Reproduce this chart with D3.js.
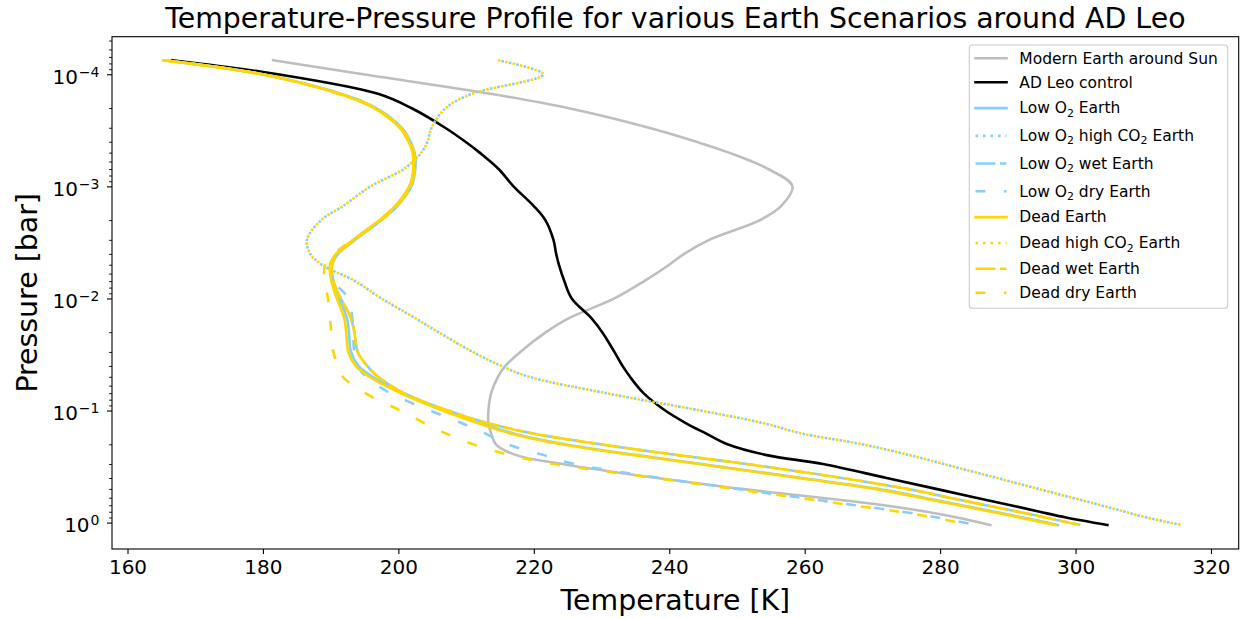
<!DOCTYPE html>
<html>
<head>
<meta charset="utf-8">
<script src="https://cdn.jsdelivr.net/npm/d3@7"></script>
<style>
  body { margin: 0; background: #fff; }
  svg { display: block; }
  text { font-family: "DejaVu Sans", "Liberation Sans", sans-serif; fill: #000; }
</style>
</head>
<body>
<svg id="chart" width="1243" height="619"></svg>
<script>
// Shared pressure levels of every profile (bar), top of atmosphere to surface
const pressureBar = [7.5e-5, 1e-4, 1.5e-4, 2e-4, 3e-4, 4e-4, 5e-4, 7e-4, 1e-3, 1.5e-3,
  2e-3, 3e-3, 4e-3, 5e-3, 7e-3, 1e-2, 1.5e-2, 2e-2, 3e-2, 4e-2,
  5e-2, 7e-2, 0.1, 0.13, 0.16, 0.2, 0.25, 0.3, 0.4, 0.5,
  0.6, 0.7, 0.8, 0.9, 1.05];

// Temperatures (K) at each pressure level
const modernEarthSun = [181.5, 194.8, 213.8, 225.0, 237.0, 244.0, 248.8, 254.6, 258.2, 256.5,
  253.4, 245.9, 242.2, 240.0, 236.3, 231.9, 225.2, 221.8, 218.0, 215.8,
  214.7, 213.7, 213.3, 213.3, 213.7, 214.4, 217.4, 224.2, 238.2, 250.6,
  262.4, 271.7, 278.0, 282.5, 287.4];
const adLeoControl = [166.6, 182.2, 197.1, 201.9, 206.9, 209.9, 212.0, 214.8, 217.0, 220.0,
  221.7, 222.9, 223.3, 223.7, 224.5, 225.6, 228.5, 230.1, 231.9, 233.1,
  234.2, 236.2, 239.4, 242.5, 245.4, 248.6, 254.4, 262.7, 272.1, 279.4,
  285.3, 290.4, 294.7, 298.6, 304.7];
const lowO2Earth = [165.5, 180.0, 191.6, 196.7, 200.5, 201.8, 202.4, 202.5, 201.9, 199.8,
  197.5, 193.6, 191.1, 190.2, 190.4, 191.3, 192.4, 192.7, 193.0, 194.1,
  196.2, 200.8, 207.0, 212.3, 217.0, 224.6, 235.3, 244.8, 259.6, 270.8,
  277.6, 283.2, 288.0, 292.2, 297.4];
const lowO2HighCO2Earth = [214.7, 221.4, 210.8, 207.0, 204.9, 204.3, 203.4, 200.8, 195.9, 191.8,
  188.6, 186.5, 187.0, 188.7, 193.6, 197.5, 202.5, 205.9, 211.0, 215.2,
  219.3, 230.7, 244.6, 254.0, 259.5, 268.5, 275.5, 280.5, 288.4, 294.5,
  299.5, 303.7, 307.3, 310.5, 315.6];
const lowO2WetEarth = [165.4, 179.9, 191.5, 196.6, 200.4, 201.7, 202.3, 202.4, 201.8, 199.7,
  197.4, 193.5, 191.0, 190.2, 190.4, 191.5, 193.0, 193.5, 194.0, 195.4,
  197.0, 200.8, 207.3, 213.3, 219.8, 229.8, 241.3, 251.4, 265.5, 275.1,
  281.4, 286.8, 291.5, 295.5, 300.7];
const lowO2DryEarth = [165.5, 180.0, 191.6, 196.7, 200.5, 201.8, 202.4, 202.5, 201.9, 199.8,
  197.5, 193.6, 191.1, 190.2, 190.5, 192.6, 193.2, 193.3, 193.5, 194.0,
  195.2, 198.8, 204.7, 209.4, 212.8, 216.1, 221.5, 226.0, 238.7, 250.0,
  259.5, 267.5, 274.4, 279.6, 285.2];
const deadEarth = [165.3, 179.8, 191.3, 196.4, 200.2, 201.5, 202.1, 202.2, 201.6, 199.5,
  197.2, 193.3, 190.8, 189.9, 190.1, 190.9, 192.0, 192.3, 192.6, 193.7,
  195.7, 200.3, 206.5, 211.8, 216.5, 224.1, 234.8, 244.3, 259.1, 270.3,
  277.1, 282.7, 287.5, 291.7, 297.0];
const deadHighCO2Earth = [214.7, 221.4, 210.8, 207.0, 204.9, 204.3, 203.4, 200.8, 195.9, 191.8,
  188.6, 186.5, 187.0, 188.7, 193.6, 197.5, 202.5, 205.9, 211.0, 215.2,
  219.3, 230.7, 244.6, 254.0, 259.5, 268.5, 275.5, 280.5, 288.4, 294.5,
  299.5, 303.7, 307.3, 310.5, 315.6];
const deadWetEarth = [165.4, 179.9, 191.5, 196.6, 200.4, 201.7, 202.3, 202.4, 201.8, 199.7,
  197.4, 193.5, 191.0, 190.2, 190.4, 191.5, 193.0, 193.5, 194.0, 195.4,
  197.0, 200.8, 207.3, 213.3, 219.8, 229.8, 241.3, 251.4, 265.5, 275.1,
  281.4, 286.8, 291.5, 295.5, 300.7];
const deadDryEarth = [165.3, 179.8, 191.3, 196.4, 200.2, 201.5, 202.1, 202.2, 201.6, 199.5,
  197.2, 193.3, 190.5, 189.2, 189.1, 189.6, 189.9, 190.1, 190.4, 191.1,
  191.8, 195.1, 200.3, 203.9, 207.0, 211.0, 216.5, 222.9, 237.9, 249.4,
  259.0, 267.0, 274.0, 279.0, 284.4];

const seriesNames = ["Modern Earth around Sun", "AD Leo control", "Low O_2 Earth",
  "Low O_2 high CO_2 Earth", "Low O_2 wet Earth", "Low O_2 dry Earth", "Dead Earth",
  "Dead high CO_2 Earth", "Dead wet Earth", "Dead dry Earth"];

const xTickValues = [160, 180, 200, 220, 240, 260, 280, 300, 320];
const yTickValues = [1e-4, 1e-3, 1e-2, 1e-1, 1];
const yTickExponents = ["−4", "−3", "−2", "−1", "0"];

const titleText = "Temperature-Pressure Profile for various Earth Scenarios around AD Leo";
const xLabelText = "Temperature [K]";
const yLabelText = "Pressure [bar]";

// ---- styling ----
const GRAY = "#bebebe", BLACK = "#000000", BLUE = "#87cefa", GOLD = "#ffd700";
const LW = 2.6;
const DOT = [2.6, 4.9], WET = [20, 4.5], DRY = [10, 18.5];

const series = [
  { values: modernEarthSun,    color: GRAY,  dash: null, offset: 0 },
  { values: adLeoControl,      color: BLACK, dash: null, offset: 0 },
  { values: lowO2Earth,        color: BLUE,  dash: null, offset: 0 },
  { values: lowO2HighCO2Earth, color: BLUE,  dash: DOT,  offset: 3.75 },
  { values: lowO2WetEarth,     color: BLUE,  dash: WET,  offset: 11 },
  { values: lowO2DryEarth,     color: BLUE,  dash: DRY,  offset: 6 },
  { values: deadEarth,         color: GOLD,  dash: null, offset: 0 },
  { values: deadHighCO2Earth,  color: GOLD,  dash: DOT,  offset: 0 },
  { values: deadWetEarth,      color: GOLD,  dash: WET,  offset: 0 },
  { values: deadDryEarth,      color: GOLD,  dash: DRY,  offset: 0 }
];
series.forEach((s, i) => { s.name = seriesNames[i]; });

const svg = d3.select("#chart");
const box = { left: 112, right: 1238.7, top: 36.7, bottom: 549 };

const x = d3.scaleLinear().domain([157.71, 324.09]).range([box.left, box.right]);
const y = d3.scaleLog().domain([4.62e-5, 1.72]).range([box.top, box.bottom]);

svg.append("clipPath").attr("id", "plot-clip")
  .append("rect")
  .attr("x", box.left).attr("y", box.top)
  .attr("width", box.right - box.left).attr("height", box.bottom - box.top);

// ---- profiles ----
const line = d3.line()
  .x(d => x(d[0]))
  .y(d => y(d[1]))
  .curve(d3.curveCatmullRom.alpha(0.5));

const gLines = svg.append("g").attr("clip-path", "url(#plot-clip)");
series.forEach(s => {
  gLines.append("path")
    .datum(s.values.map((t, i) => [t, pressureBar[i]]))
    .attr("d", line)
    .attr("fill", "none")
    .attr("stroke", s.color)
    .attr("stroke-width", LW)
    .attr("stroke-linejoin", "round")
    .attr("stroke-linecap", s.dash ? "butt" : "square")
    .attr("stroke-dasharray", s.dash ? s.dash.join(",") : null)
    .attr("stroke-dashoffset", s.offset || null);
});

// ---- axes ----
const xAxis = svg.append("g")
  .attr("transform", `translate(0,${box.bottom})`)
  .call(d3.axisBottom(x).tickValues(xTickValues).tickSize(5).tickPadding(5.8)
    .tickFormat(d3.format("d")));
xAxis.select(".domain").remove();
xAxis.selectAll(".tick line").attr("stroke", "#000").attr("stroke-width", 1.1);
xAxis.selectAll(".tick text")
  .attr("font-size", 20).attr("font-family", "DejaVu Sans").attr("fill", "#000");

// minor log ticks on the pressure axis
const [pMin, pMax] = y.domain();
const minorValues = [];
for (let k = -5; k <= 0; k++) {
  for (let m = 2; m <= 9; m++) {
    const v = m * Math.pow(10, k);
    if (v >= pMin && v <= pMax) minorValues.push(v);
  }
}
const yMinor = svg.append("g")
  .attr("transform", `translate(${box.left},0)`)
  .call(d3.axisLeft(y).tickValues(minorValues).tickSize(2.9).tickFormat(() => ""));
yMinor.select(".domain").remove();
yMinor.selectAll(".tick line").attr("stroke", "#000").attr("stroke-width", 0.9);

const yMajor = svg.append("g")
  .attr("transform", `translate(${box.left},0)`)
  .call(d3.axisLeft(y).tickValues(yTickValues).tickSize(5).tickFormat(() => ""));
yMajor.select(".domain").remove();
yMajor.selectAll(".tick line").attr("stroke", "#000").attr("stroke-width", 1.1);

// power-of-ten labels
const yLabels = svg.append("g");
yTickValues.forEach((v, i) => {
  const t = yLabels.append("text")
    .attr("x", 99.5).attr("y", y(v) + 9.8)
    .attr("text-anchor", "end")
    .attr("font-size", 20);
  t.append("tspan").text("10");
  t.append("tspan").attr("dx", 1).attr("dy", -7.5).attr("font-size", 14).text(yTickExponents[i]);
});

// spines
svg.append("rect")
  .attr("x", box.left).attr("y", box.top)
  .attr("width", box.right - box.left).attr("height", box.bottom - box.top)
  .attr("fill", "none").attr("stroke", "#000").attr("stroke-width", 1.1);

// ---- titles ----
const cx = (box.left + box.right) / 2;
svg.append("text").attr("x", cx).attr("y", 28).attr("text-anchor", "middle")
  .attr("font-size", 28.4).text(titleText);
svg.append("text").attr("x", cx).attr("y", 610).attr("text-anchor", "middle")
  .attr("font-size", 28.4).text(xLabelText);
svg.append("text")
  .attr("transform", `translate(37,${(box.top + box.bottom) / 2}) rotate(-90)`)
  .attr("text-anchor", "middle").attr("font-size", 28.4).text(yLabelText);

// ---- legend ----
const leg = { x: 969.3, y: 45, w: 258.4, h: 263.3, fs: 15.5 };
const lg = svg.append("g");
lg.append("rect")
  .attr("x", leg.x).attr("y", leg.y).attr("width", leg.w).attr("height", leg.h)
  .attr("rx", 3).attr("fill", "#fff").attr("fill-opacity", 0.8)
  .attr("stroke", "#cccccc").attr("stroke-width", 1.1);

const rowHeight = name => (name.includes("_") ? 27.7 : 24);
let rowY = 58.3;
series.forEach((s, i) => {
  if (i > 0) rowY += (rowHeight(series[i - 1].name) + rowHeight(s.name)) / 2;
  lg.append("line")
    .attr("x1", 975.5).attr("x2", 1006.5).attr("y1", rowY).attr("y2", rowY)
    .attr("stroke", s.color).attr("stroke-width", LW)
    .attr("stroke-linecap", s.dash ? "butt" : "square")
    .attr("stroke-dasharray", s.dash ? s.dash.join(",") : null);
  const t = lg.append("text").attr("x", 1019.3).attr("y", rowY + 5.3).attr("font-size", leg.fs);
  const parts = s.name.split(/_(\d)/);
  parts.forEach((p, j) => {
    if (j % 2 === 1) {
      t.append("tspan").attr("dy", 3.3).attr("font-size", 10.9).text(p);
    } else if (p.length) {
      const sp = t.append("tspan").text(p.replace(/ /g, "\u00a0"));
      if (j > 0) sp.attr("dy", -3.3);
    }
  });
});
</script>
</body>
</html>
